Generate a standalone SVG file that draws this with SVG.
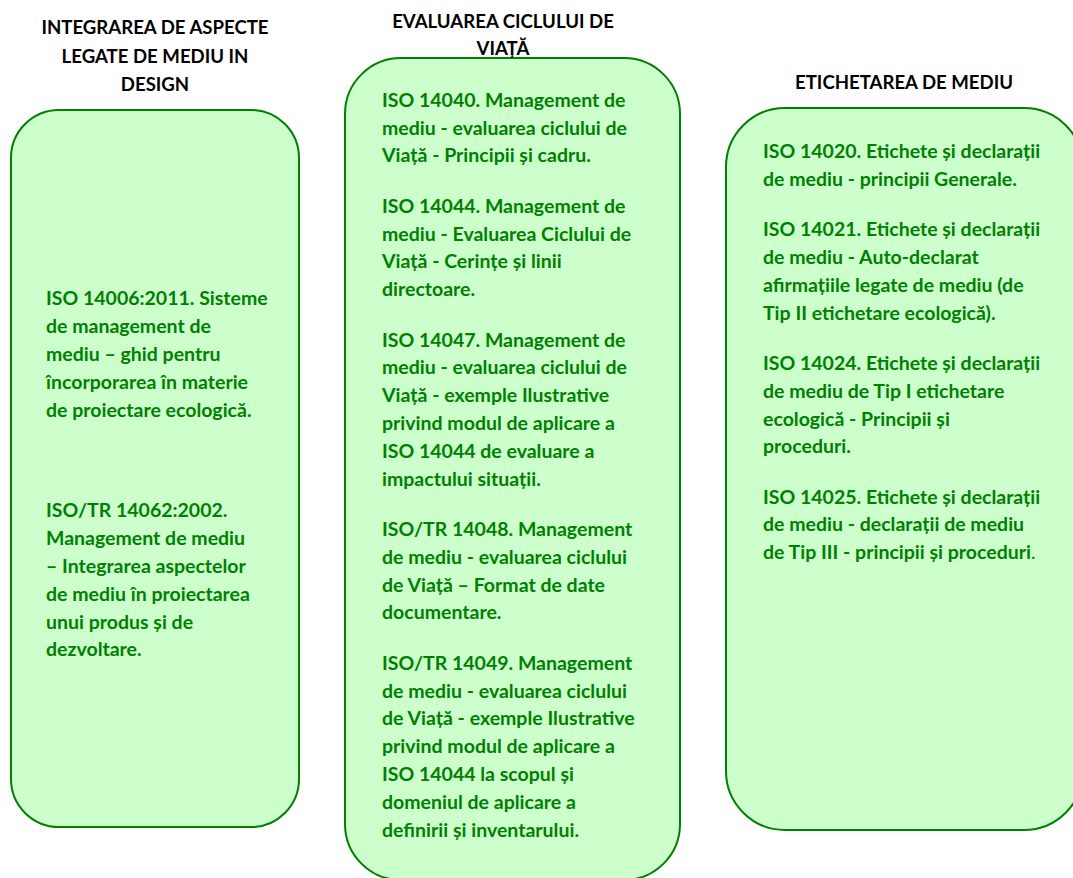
<svg xmlns="http://www.w3.org/2000/svg" width="1073" height="878" viewBox="0 0 1073 878">
<style>
.box{fill:#CCFFCC;stroke:#008000;stroke-width:2}
.hd{font-family:Lato,"Liberation Sans",sans-serif;font-weight:bold;font-size:18.6px;fill:#000;text-anchor:middle}
.bd{font-family:Lato,"Liberation Sans",sans-serif;font-weight:bold;font-size:19.5px;fill:#008000}
</style>
<rect width="1073" height="878" fill="#fff"/>
<g id="connectors"/>
<g id="node-design">
<rect class="box" x="11" y="110" width="288" height="717" rx="48" ry="48"/>
<text class="hd"><tspan x="155" y="34">INTEGRAREA DE ASPECTE</tspan><tspan x="155" y="62.5">LEGATE DE MEDIU IN</tspan><tspan x="155" y="91">DESIGN</tspan></text>
<text class="bd">
<tspan x="46" y="305">ISO 14006:2011. Sisteme</tspan>
<tspan x="46" y="333">de management de</tspan>
<tspan x="46" y="361">mediu – ghid pentru</tspan>
<tspan x="46" y="389">încorporarea în materie</tspan>
<tspan x="46" y="417">de proiectare ecologică.</tspan>
<tspan x="46" y="517">ISO/TR 14062:2002.</tspan>
<tspan x="46" y="545">Management de mediu</tspan>
<tspan x="46" y="573">– Integrarea aspectelor</tspan>
<tspan x="46" y="600.5">de mediu în proiectarea</tspan>
<tspan x="46" y="628.5">unui produs și de</tspan>
<tspan x="46" y="656">dezvoltare.</tspan>
</text>
</g>
<g id="node-lca">
<rect class="box" x="345" y="58" width="335" height="822" rx="56" ry="56"/>
<text class="hd"><tspan x="503" y="28.3">EVALUAREA CICLULUI DE</tspan><tspan x="503" y="55">VIAȚĂ</tspan></text>
<text class="bd">
<tspan x="382" y="106.7">ISO 14040. Management de</tspan>
<tspan x="382" y="134.5">mediu - evaluarea ciclului de</tspan>
<tspan x="382" y="162.3">Viață - Principii și cadru.</tspan>
<tspan x="382" y="212.7">ISO 14044. Management de</tspan>
<tspan x="382" y="240.5">mediu - Evaluarea Ciclului de</tspan>
<tspan x="382" y="268.3">Viață - Cerințe și linii</tspan>
<tspan x="382" y="296.1">directoare.</tspan>
<tspan x="382" y="346.5">ISO 14047. Management de</tspan>
<tspan x="382" y="374.3">mediu - evaluarea ciclului de</tspan>
<tspan x="382" y="402.1">Viață - exemple Ilustrative</tspan>
<tspan x="382" y="429.9">privind modul de aplicare a</tspan>
<tspan x="382" y="457.7">ISO 14044 de evaluare a</tspan>
<tspan x="382" y="485.5">impactului situații.</tspan>
<tspan x="382" y="535.9">ISO/TR 14048. Management</tspan>
<tspan x="382" y="563.7">de mediu - evaluarea ciclului</tspan>
<tspan x="382" y="591.5">de Viață – Format de date</tspan>
<tspan x="382" y="619.3">documentare.</tspan>
<tspan x="382" y="669.7">ISO/TR 14049. Management</tspan>
<tspan x="382" y="697.5">de mediu - evaluarea ciclului</tspan>
<tspan x="382" y="725.3">de Viață - exemple Ilustrative</tspan>
<tspan x="382" y="753.1">privind modul de aplicare a</tspan>
<tspan x="382" y="780.9">ISO 14044 la scopul și</tspan>
<tspan x="382" y="808.7">domeniul de aplicare a</tspan>
<tspan x="382" y="836.5">definirii și inventarului.</tspan>
</text>
</g>
<g id="node-label">
<rect class="box" x="726" y="108" width="357" height="722" rx="59" ry="59"/>
<text class="hd"><tspan x="904" y="89.3">ETICHETAREA DE MEDIU</tspan></text>
<text class="bd">
<tspan x="763" y="158.3">ISO 14020. Etichete și declarații</tspan>
<tspan x="763" y="186.1">de mediu - principii Generale.</tspan>
<tspan x="763" y="236.3">ISO 14021. Etichete și declarații</tspan>
<tspan x="763" y="264.1">de mediu - Auto-declarat</tspan>
<tspan x="763" y="291.9">afirmațiile legate de mediu (de</tspan>
<tspan x="763" y="319.7">Tip II etichetare ecologică).</tspan>
<tspan x="763" y="369.9">ISO 14024. Etichete și declarații</tspan>
<tspan x="763" y="397.7">de mediu de Tip I etichetare</tspan>
<tspan x="763" y="425.5">ecologică - Principii și</tspan>
<tspan x="763" y="453.3">proceduri.</tspan>
<tspan x="763" y="503.5">ISO 14025. Etichete și declarații</tspan>
<tspan x="763" y="531.3">de mediu - declarații de mediu</tspan>
<tspan x="763" y="559.1">de Tip III - principii și proceduri<tspan font-weight="normal">.</tspan></tspan>
</text>
</g>
</svg>
